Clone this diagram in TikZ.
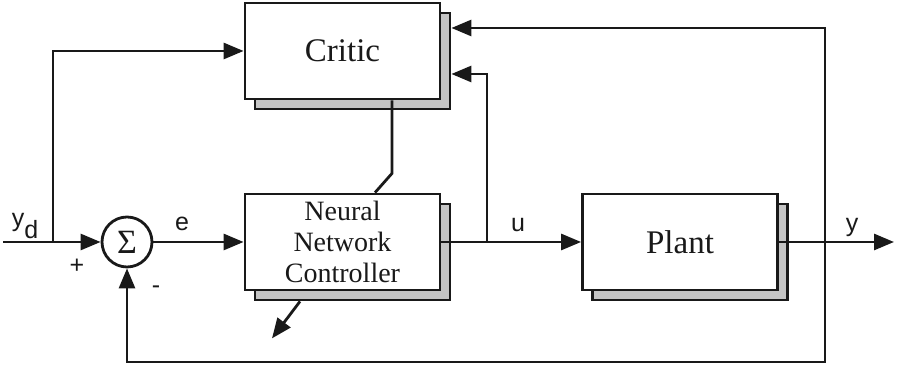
\documentclass[tikz,border=0pt]{standalone}
\usepackage{fontspec}
\setmainfont{Liberation Serif}
\setsansfont{Liberation Sans}
\usetikzlibrary{arrows.meta,calc,positioning}
\definecolor{inkBlack}{RGB}{25,25,25}
\definecolor{shadowGray}{RGB}{150,150,150}
\tikzset{
  block/.style={draw=inkBlack,fill=white,line width=1.4pt,minimum width=97.5pt,minimum height=48pt,align=center,text=inkBlack,font=\fontsize{16.5}{18}\selectfont},
  block shadow/.style={draw=inkBlack,fill=shadowGray!55,line width=1.4pt,minimum width=97.5pt,minimum height=48pt},
  sum node/.style={circle,draw=inkBlack,fill=white,line width=1.4pt,minimum size=25pt,inner sep=0pt,text=inkBlack,font=\fontsize{17}{18}\selectfont},
  signal/.style={-{Triangle[length=10pt,width=8pt]},line width=1.4pt,draw=inkBlack},
  wire/.style={line width=1.4pt,draw=inkBlack},
  sig label/.style={anchor=base,text=inkBlack,font=\sffamily\fontsize{12.5}{14}\selectfont}
}
\begin{document}
\begin{tikzpicture}[x=.5pt,y=.5pt]
  \useasboundingbox (0,0) rectangle (897,367);
  % blocks with their shadows
  \node[block shadow] (criticS) at (352.5,306) {};
  \node[block] (critic) at (342.5,316) {Critic};
  \node[block shadow] (nnS) at (352.5,115) {};
  \node[block,font=\fontsize{14}{15.5}\selectfont] (nn) at (342.5,125) {Neural\\Network\\Controller};
  \node[block shadow] (plantS) at (690,115) {};
  \node[block] (plant) at (680,125) {Plant};
  \node[sum node] (sum) at (127,125) {Σ};
  % branch points
  \coordinate (in) at (3,125);
  \coordinate (ydsplit) at (53,125);
  \coordinate (usplit) at (487,125);
  \coordinate (ysplit) at (825,125);
  \coordinate (out) at (894,125);
  \coordinate (fbcorner) at (825,5);
  % signals
  \draw[signal] (in) -- (sum.west);
  \draw[signal] (ydsplit) |- (critic.west);
  \draw[signal] (sum.east) -- (nn.west);
  \draw[signal] (nn.east) -- (plant.west);
  \draw[signal] (plant.east) -- (out);
  \draw[signal] (usplit) |- ($(criticS.east)+(0,-13)$);
  \draw[signal] (ysplit) |- ($(criticS.east)+(0,33)$);
  \draw[signal] (ysplit) -- (fbcorner) -| (sum.south);
  \draw[wire] ($(critic.south)+(49.5,0)$) -- ++(0,-73) -- ($(nn.north)+(32.5,0)$);
  \draw[signal] ($(nnS.south)+(-52.5,0)$) -- ++(-28,-37);
  % labels
  \node[sig label] (ydlabel) at (25,140) {y\raisebox{-.45em}{d}};
  \node[sig label] (plus) at (77,93) {+};
  \node[sig label] (minus) at (156,73) {-};
  \node[sig label] (elabel) at (182,136) {e};
  \node[sig label] (ulabel) at (518,135) {u};
  \node[sig label] (ylabel) at (852,135) {y};
\end{tikzpicture}
\end{document}
